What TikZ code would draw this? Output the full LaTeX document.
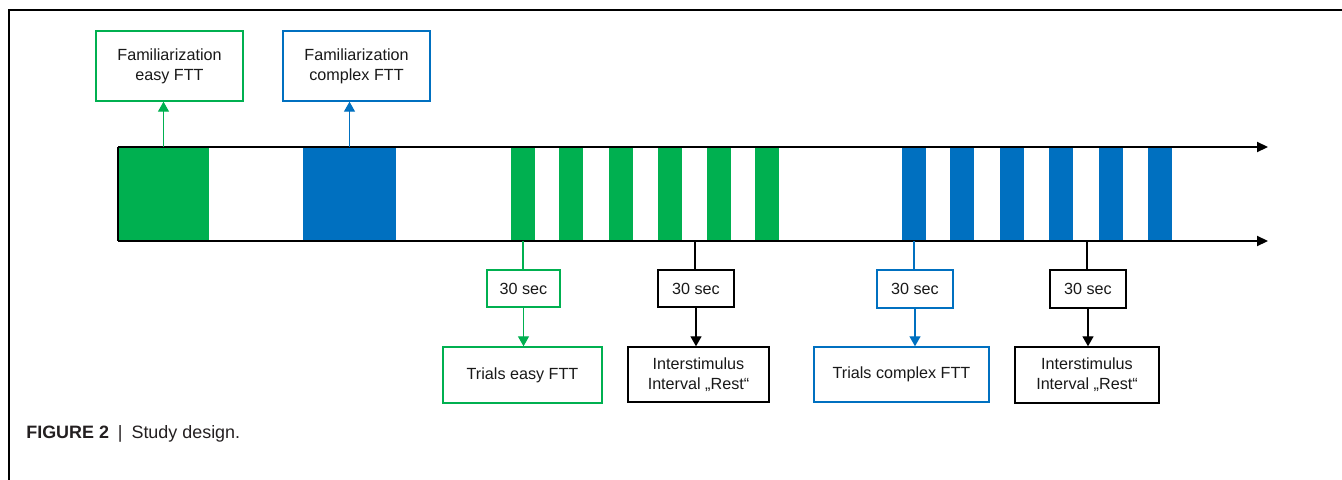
\documentclass[tikz,border=0pt]{standalone}
\usepackage{fontspec}
\setmainfont{Liberation Sans}
\usetikzlibrary{arrows.meta}
\definecolor{fgreen}{HTML}{00B050}
\definecolor{fblue}{HTML}{0070C0}
\definecolor{captxt}{HTML}{231F20}
\begin{document}
\begin{tikzpicture}[x=0.02cm,y=-0.02cm,
  lbl/.style={font=\fontsize{9.2}{11.2}\selectfont, align=center, inner sep=0pt, text=black!90},
  box/.style={lbl, draw=#1, line width=0.8pt, fill=white},
  wh/.style 2 args={minimum width=#1*0.02cm, minimum height=#2*0.02cm},
  bar/.style={fill=#1, draw=none, inner sep=0pt, minimum width=0.48cm, minimum height=1.88cm},
  conn/.style={draw=#1, line width=0.75pt},
  carrow/.style={conn=#1, -{Triangle[length=0.2cm,width=0.22cm]}},
  axisline/.style={line width=1.2pt, -{Triangle[length=0.22cm,width=0.2cm]}},
]
\useasboundingbox (0,0) rectangle (1342,480);
% frame
\draw[line width=0.9pt] (9,480) -- (9,10) -- (1342,10);

% blocks
\node[bar=fgreen, minimum width=1.82cm] (gbig) at (163.5,194) {};
\node[bar=fblue, minimum width=1.86cm] (bbig) at (349.5,194) {};
\foreach \x [count=\i] in {523,571,621,669.5,718.5,767}
  \node[bar=fgreen] (g\i) at (\x,194) {};
\foreach \x [count=\i] in {914,962,1011.5,1061,1110.5,1160}
  \node[bar=fblue] (b\i) at (\x,194) {};

% axes
\coordinate (t0) at (118,147);
\coordinate (t1) at (1268,147);
\coordinate (u0) at (118,241);
\coordinate (u1) at (1268,241);
\draw[axisline] (t0) -- (t1);
\draw[axisline] (u0) -- (u1);
\draw[line width=1.2pt] (t0) -- (u0);

% top boxes
\node[box=fgreen, wh={147}{70}] (famE) at (169.5,66) {Familiarization\\easy FTT};
\node[box=fblue, wh={147}{70}] (famC) at (356.5,66) {Familiarization\\complex FTT};
\draw[carrow=fgreen] (gbig.north) -- (gbig.north |- famE.south);
\draw[carrow=fblue] (bbig.north) -- (bbig.north |- famC.south);

% lower boxes
\node[box=fgreen, wh={73}{37}] (s1) at (523.5,288.5) {30 sec};
\node[box=fgreen, wh={159}{56}] (tE) at (522.5,375) {Trials easy FTT};
\node[box=black, wh={76}{37}] (s2) at (696,288.5) {30 sec};
\node[box=black, wh={141}{55}] (iE) at (698.5,374.5) {Interstimulus\\Interval „Rest“};
\node[box=fblue, wh={76}{38}] (s3) at (915,289) {30 sec};
\node[box=fblue, wh={175}{55}] (tC) at (901.5,374.5) {Trials complex FTT};
\node[box=black, wh={76}{38}] (s4) at (1088,289) {30 sec};
\node[box=black, wh={144}{56}] (iC) at (1087,375) {Interstimulus\\Interval „Rest“};

\coordinate (r1) at (695,241);
\coordinate (r2) at (1087,241);

\draw[conn=fgreen] (g1.south) -- (g1.south |- s1.north);
\draw[carrow=fgreen] (s1.south) -- (s1.south |- tE.north);
\draw[conn=black] (r1) -- (r1 |- s2.north);
\draw[carrow=black] (s2.south) -- (s2.south |- iE.north);
\draw[conn=fblue] (b1.south) -- (b1.south |- s3.north);
\draw[carrow=fblue] (s3.south) -- (s3.south |- tC.north);
\draw[conn=black] (r2) -- (r2 |- s4.north);
\draw[carrow=black] (s4.south) -- (s4.south |- iC.north);

% caption
\node[anchor=base west, inner sep=0pt, font=\fontsize{10.2}{12}\selectfont, text=captxt] (cap) at (26,438)
  {\textbf{FIGURE 2}\hspace{0.5em}|\hspace{0.5em}Study design.};
\end{tikzpicture}
\end{document}
